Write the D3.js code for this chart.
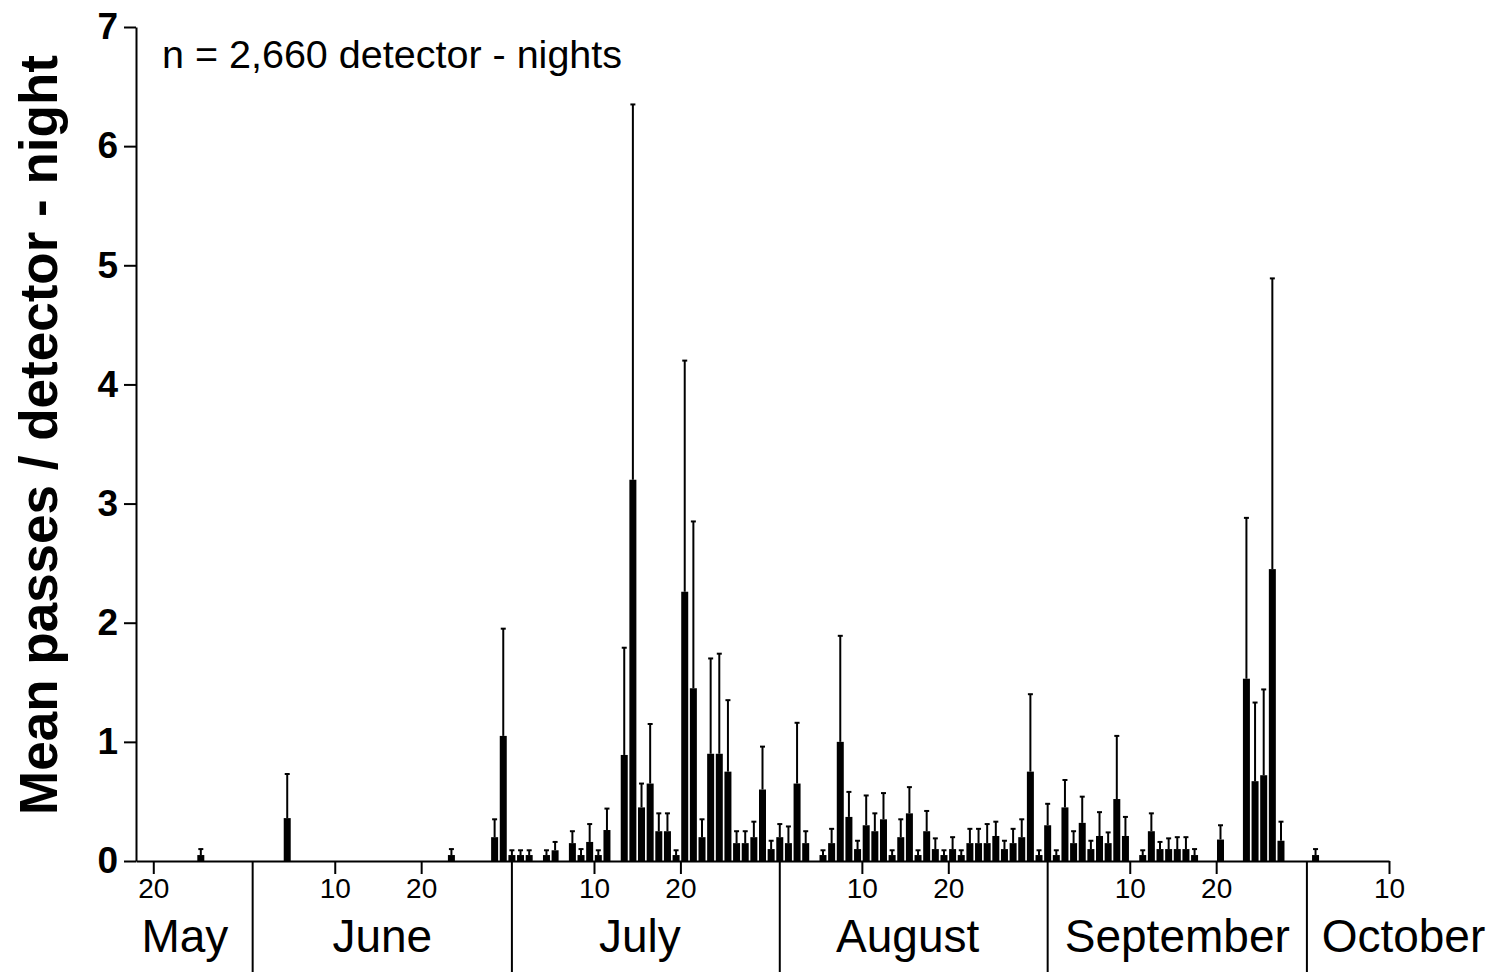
<!DOCTYPE html>
<html>
<head>
<meta charset="utf-8">
<script src="https://cdn.jsdelivr.net/npm/d3@7"></script>
<style>
  html, body { margin: 0; padding: 0; background: #fff; }
  svg { display: block; font-family: "Liberation Sans", Arial, sans-serif; }
</style>
</head>
<body>
<svg id="chart" width="1496" height="972"></svg>
<script>
// ---- data ----
const year = 2012;
const nightDates = [
  "05-25","06-04","06-23","06-28","06-29","06-30",
  "07-01","07-02","07-04","07-05","07-07","07-08","07-09","07-10","07-11","07-13","07-14","07-15","07-16","07-17","07-18","07-19","07-20","07-21","07-22","07-23","07-24","07-25","07-26","07-27","07-28","07-29","07-30","07-31",
  "08-01","08-02","08-03","08-05","08-06","08-07","08-08","08-09","08-10","08-11","08-12","08-13","08-14","08-15","08-16","08-17","08-18","08-19","08-20","08-21","08-22","08-23","08-24","08-25","08-26","08-27","08-28","08-29","08-30","08-31",
  "09-01","09-02","09-03","09-04","09-05","09-06","09-07","09-08","09-09","09-11","09-12","09-13","09-14","09-15","09-16","09-17","09-20","09-23","09-24","09-25","09-26","09-27",
  "10-01"
];
const meanPasses = [
  0.05,0.36,0.05,0.20,1.05,0.05,
  0.05,0.05,0.05,0.09,0.15,0.05,0.16,0.05,0.26,0.89,3.20,0.45,0.65,0.25,0.25,0.05,2.26,1.45,0.20,0.90,0.90,0.75,0.15,0.15,0.20,0.60,0.10,0.20,
  0.15,0.65,0.15,0.05,0.15,1.00,0.37,0.10,0.30,0.25,0.35,0.05,0.20,0.40,0.05,0.25,0.10,0.05,0.10,0.05,0.15,0.15,0.15,0.21,0.10,0.15,0.20,0.75,0.05,0.30,
  0.05,0.45,0.15,0.32,0.10,0.21,0.15,0.52,0.21,0.05,0.25,0.10,0.10,0.10,0.10,0.05,0.18,1.53,0.67,0.72,2.45,0.17,
  0.05
];
const errorUpper = [
  0.10,0.73,0.10,0.35,1.95,0.09,
  0.09,0.09,0.09,0.16,0.25,0.10,0.31,0.09,0.44,1.79,6.35,0.65,1.15,0.40,0.40,0.09,4.20,2.85,0.35,1.70,1.74,1.35,0.25,0.25,0.33,0.96,0.17,0.31,
  0.29,1.16,0.25,0.09,0.27,1.89,0.58,0.17,0.55,0.40,0.57,0.09,0.35,0.62,0.09,0.42,0.19,0.09,0.20,0.09,0.27,0.27,0.31,0.33,0.17,0.27,0.35,1.40,0.09,0.48,
  0.09,0.68,0.25,0.54,0.17,0.41,0.24,1.05,0.37,0.09,0.40,0.16,0.19,0.20,0.20,0.10,0.30,2.88,1.33,1.44,4.89,0.33,
  0.10
];
const yTicks = [0,1,2,3,4,5,6,7];
const xTickDates = ["05-20","06-10","06-20","07-10","07-20","08-10","08-20","09-10","09-20","10-10"];
const monthNames = ["May","June","July","August","September","October"];
const monthStarts = ["05-01","06-01","07-01","08-01","09-01","10-01","11-01"];
const annotation = "n = 2,660 detector - nights";
const yLabel = "Mean passes / detector - night";

// ---- helpers ----
const parse = s => { const [m, d] = s.split("-").map(Number); return new Date(Date.UTC(year, m - 1, d)); };
const HALF = 12 * 3600 * 1000;

const svg = d3.select("#chart");
const x = d3.scaleUtc().domain([parse("05-18"), parse("10-10")]).range([136, 1389]);
const y = d3.scaleLinear().domain([0, 7]).range([861, 27]);

const data = nightDates.map((d, i) => ({ date: parse(d), mean: meanPasses[i], up: errorUpper[i] }));
const barW = 7;
const cx = d => x(new Date(+d.date + HALF));

// error bars
const eb = svg.append("g").attr("stroke", "#000");
eb.selectAll("line.v").data(data).join("line")
  .attr("x1", cx).attr("x2", cx)
  .attr("y1", d => y(d.mean)).attr("y2", d => y(d.up)).attr("stroke-width", 2);
eb.selectAll("line.c").data(data).join("line")
  .attr("x1", d => cx(d) - 2.5).attr("x2", d => cx(d) + 2.5)
  .attr("y1", d => y(d.up)).attr("y2", d => y(d.up)).attr("stroke-width", 2);

// bars
svg.append("g").selectAll("rect").data(data).join("rect")
  .attr("x", d => cx(d) - barW / 2)
  .attr("width", barW)
  .attr("y", d => y(d.mean))
  .attr("height", d => y(0) - y(d.mean))
  .attr("fill", "#000");

// x axis
const xAxis = d3.axisBottom(x)
  .tickValues(xTickDates.map(parse))
  .tickFormat(d3.utcFormat("%-d"))
  .tickSize(13).tickSizeOuter(0).tickPadding(4);
const gx = svg.append("g").attr("transform", `translate(0,${y(0)})`).call(xAxis);
gx.select(".domain").attr("stroke-width", 2);
gx.selectAll(".tick line").attr("stroke-width", 2);
gx.selectAll(".tick text").attr("font-size", 28).attr("fill", "#000").attr("font-family", "Liberation Sans, Arial, sans-serif");

// month separators
const seps = monthStarts.slice(1, 6).map(s => new Date(+parse(s) - HALF));
svg.append("g").selectAll("line").data(seps).join("line")
  .attr("x1", d => x(d)).attr("x2", d => x(d))
  .attr("y1", y(0)).attr("y2", 972)
  .attr("stroke", "#000").attr("stroke-width", 2);

// month labels
const edges = monthStarts.map(s => x(new Date(+parse(s) - HALF)));
svg.append("g").selectAll("text").data(monthNames).join("text")
  .attr("x", (m, i) => {
    const a = Math.max(edges[i], 117), b = Math.min(edges[i + 1], 1500);
    return (a + b) / 2 - ((m === "July" || m === "August") ? 6 : 0);
  })
  .attr("y", 952)
  .attr("text-anchor", "middle")
  .attr("font-size", 46)
  .attr("fill", "#000")
  .text(d => d);

// y axis
const yAxis = d3.axisLeft(y).tickValues(yTicks).tickFormat(d3.format("d"))
  .tickSize(12).tickSizeOuter(0).tickPadding(6);
const gy = svg.append("g").attr("transform", `translate(136,0)`).call(yAxis);
gy.select(".domain").attr("stroke-width", 2);
gy.selectAll(".tick line").attr("stroke-width", 2);
gy.selectAll(".tick text").attr("font-size", 37).attr("font-weight", "bold").attr("fill", "#000")
  .attr("font-family", "Liberation Sans, Arial, sans-serif");

// y label
svg.append("text")
  .attr("transform", `translate(57,${435}) rotate(-90)`)
  .attr("text-anchor", "middle")
  .attr("font-size", 53).attr("font-weight", "bold").attr("fill", "#000")
  .text(yLabel);

// annotation
svg.append("text")
  .attr("x", 162).attr("y", 68)
  .attr("font-size", 39.5).attr("fill", "#000")
  .text(annotation);
</script>
</body>
</html>
